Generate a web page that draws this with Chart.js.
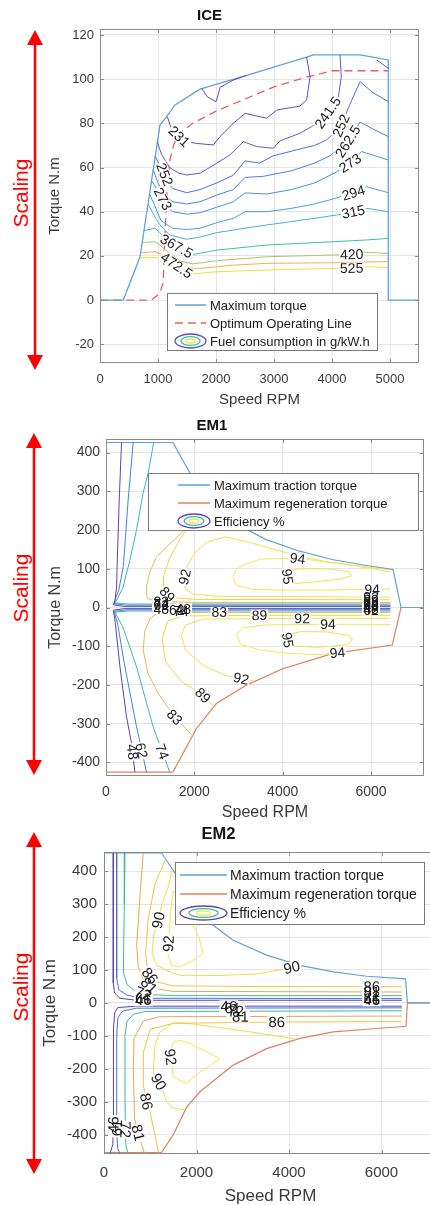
<!DOCTYPE html>
<html>
<head>
<meta charset="utf-8">
<script src="https://cdn.jsdelivr.net/npm/chart.js@4.4.1/dist/chart.umd.min.js"></script>
<style>
  body { margin: 0; width: 430px; height: 1205px; overflow: hidden; background: #fff; position: relative; }
  canvas { position: absolute; left: 0; }
  svg { position: absolute; left: 0; top: 0; }
  .scaling {
    position: absolute; color: #ff0000; font: 21px 'Liberation Sans', Arial, sans-serif;
    transform: translate(-50%, -50%) rotate(-90deg); white-space: nowrap;
  }
</style>
</head>
<body>
<svg width="430" height="1205">
  <g fill="#ff0000" stroke="#ff0000">
    <line x1="35" y1="44" x2="35" y2="356" stroke-width="2.5"/>
    <polygon points="35,30 27,45 43,45" stroke="none"/>
    <polygon points="35,370 27,355 43,355" stroke="none"/>
    <line x1="34" y1="447" x2="34" y2="761" stroke-width="2.5"/>
    <polygon points="34,433 26,448 42,448" stroke="none"/>
    <polygon points="34,775 26,760 42,760" stroke="none"/>
    <line x1="34" y1="846" x2="34" y2="1160" stroke-width="2.5"/>
    <polygon points="34,832 26,847 42,847" stroke="none"/>
    <polygon points="34,1174 26,1159 42,1159" stroke="none"/>
  </g>
</svg>
<div class="scaling" style="left:21px;top:193px">Scaling</div>
<div class="scaling" style="left:21px;top:588px">Scaling</div>
<div class="scaling" style="left:21px;top:987px">Scaling</div>

<canvas id="ice" width="430" height="410" style="top:0"></canvas>
<canvas id="em1" width="430" height="425" style="top:400px"></canvas>
<canvas id="em2" width="445" height="412" style="top:795px"></canvas>

<script>
// ---------- ICE data (rpm, N.m) ----------
const ICE_X_TICKS = [0, 1000, 2000, 3000, 4000, 5000];
const ICE_Y_TICKS = [-20, 0, 20, 40, 60, 80, 100, 120];
const ICE_MAX_TORQUE = [[0,0],[402,0],[690,19.6],[1034,79.2],[1149,83],[1293,88.3],[1724,95.5],[2500,101.5],[3563,110],[3678,111],[4483,111],[4971,108.7],[4971,0],[5500,0]];
const ICE_OOL = [[0,0],[890,0],[1030,3],[1090,8],[1120,30],[1160,52],[1210,64],[1280,71],[1400,76],[1600,80],[2000,85.5],[2500,91],[3000,96.5],[3500,100.5],[4000,103.8],[4971,103.8]];
const ICE_C231 = [[1161,83],[1236,77],[1330,75],[1450,72],[1667,70.9],[1954,70.2],[2069,74],[2299,80],[2500,84.5],[2874,82.3],[3046,86],[3448,87.8],[3563,90.6],[3621,101],[3563,110]];
const ICE_C231_TOP = [[1753,95.8],[1850,92],[2000,89.8],[2040,93],[2069,96.3],[2299,99.6],[2529,101.7]];
const ICE_C231_RIGHT = [[4770,108.7],[4971,104.9]];
const ICE_C241 = [[990,71.5],[1060,66],[1200,60],[1350,57.5],[1494,56.6],[1724,57.4],[2011,61.9],[2241,65.7],[2471,71.7],[2700,69.5],[2988,68.7],[3100,72],[3448,75.5],[3650,78.5],[3900,84],[4110,92],[4160,101],[4138,111]];
const ICE_C252 = [[952,65],[1030,61],[1100,58],[1160,54],[1250,50.5],[1494,48.6],[1724,50],[2011,53],[2299,56.5],[2500,63],[2750,62],[2988,65.3],[3390,68],[3700,70],[3907,72.5],[4138,78],[4300,88],[4483,98.9],[4700,94],[4971,89.8]];
const ICE_C262 = [[917,59],[1000,53],[1100,48],[1250,44.5],[1494,43.5],[1724,44.5],[2011,47.5],[2299,50],[2500,55.5],[2815,56],[3300,58.5],[3700,62],[3965,65.3],[4253,71],[4420,78],[4483,80.6],[4700,77.5],[4971,74]];
const ICE_C273 = [[888,54],[990,50],[1060,47],[1150,42.5],[1250,40],[1494,38.9],[1724,39.5],[2011,42],[2299,44.5],[2500,48.5],[2874,48],[3300,50],[3700,53],[4080,58],[4310,62],[4511,67.2],[4971,63.4]];
const ICE_C294 = [[854,48],[940,43],[1050,36],[1250,32.5],[1494,31.9],[1724,32.5],[2011,35],[2300,37],[2500,40],[2874,40],[3300,41.5],[3700,43.5],[4050,46],[4368,48.6],[4598,51.3],[4971,48.6]];
const ICE_C315 = [[828,43.5],[900,40],[960,37],[1050,33.5],[1200,29.5],[1494,27.5],[1724,28.5],[2011,30.5],[2500,32.5],[2874,34],[3300,35.5],[3700,37],[4080,38.5],[4368,40],[4598,41.5],[4971,40]];
const ICE_C367 = [[758,31.4],[948,32.5],[1034,30.5],[1150,27],[1322,24.5],[1500,21.5],[1609,20.6],[2011,22.6],[2874,24.9],[4023,26.4],[4598,27.2],[4971,27.9]];
const ICE_C420 = [[727,26.1],[948,26.4],[1034,24.9],[1200,21],[1400,17.5],[1609,16.4],[2011,17.8],[2874,19.6],[4023,20.4],[4339,20.7],[4598,21.6],[4971,21.1]];
const ICE_C472 = [[700,21.4],[948,21.9],[1092,20.4],[1200,18],[1322,15.8],[1500,14.5],[1724,14.3],[2299,15.8],[2874,16.6],[4023,16.9],[4971,17.4]];
const ICE_C525 = [[690,19.3],[948,19.3],[1149,17.4],[1300,14.5],[1450,12.5],[1552,11.7],[2011,12.8],[2874,13.6],[3950,14.3],[4339,14.5],[4598,15.1],[4971,14.7]];
const ICE_LABELS = [['231',1400,75],['241.5',3920,85],['252',4150,79],['262.5',4260,72],['273',4310,62],['294',4368,48.6],['315',4368,40],['367.5',1322,24.5],['420',4339,20.7],['472.5',1322,15.8],['525',4339,14.5],['252',1130,57],['273',1100,46]];

// ---------- EM1 data ----------
const EM_X_TICKS = [0, 2000, 4000, 6000];
const EM_Y_TICKS = [-400, -300, -200, -100, 0, 100, 200, 300, 400];
const EM1_TRACTION = [[0,426],[1515,426],[2045,318],[2500,256],[3165,203],[3615,176],[4365,146],[5115,124],[5865,109],[6500,98],[6680,0],[7200,0]];
const EM1_REGEN = [[0,-425],[1515,-425],[2045,-313],[2500,-248],[3170,-201],[4000,-158],[5125,-119],[6480,-97],[6680,0],[7200,0]];
const EM1_C48_UP = [[352,426],[300,280],[255,120],[240,53],[200,15],[165,7],[400,3],[6440,3]];
const EM1_C48_LO = [[654,-425],[579,-351],[466,-283],[316,-153],[200,-30],[165,-7],[400,-3],[6440,-3]];
const EM1_C62_UP = [[615,426],[502,278],[440,180],[390,105],[290,45],[202,19],[180,10],[450,6],[6440,6]];
const EM1_C62_LO = [[917,-425],[692,-308],[428,-153],[260,-40],[180,-10],[450,-6],[6440,-6]];
const EM1_C74_UP = [[1080,426],[960,350],[840,295],[690,200],[540,122],[380,50],[240,19],[200,12],[500,9],[6440,9]];
const EM1_C74_LO = [[1443,-425],[1067,-308],[692,-153],[380,-50],[200,-12],[500,-9],[6440,-9]];
const EM1_C83_UP = [[1960,334],[1778,200],[1450,165],[1140,131],[990,90],[915,53],[930,25],[1100,16],[2000,13],[6440,13]];
const EM1_C83_LO = [[1960,-331],[1556,-283],[1200,-225],[950,-170],[842,-110],[880,-60],[1000,-28],[1150,-16],[2000,-13],[6440,-13]];
const EM1_C89_UP = [[2380,272],[2000,230],[1700,180],[1450,130],[1300,80],[1300,45],[1450,26],[2000,21],[6440,20]];
const EM1_C89_LO = [[2450,-256],[2195,-227],[1700,-190],[1350,-140],[1270,-80],[1400,-35],[1700,-22],[3473,-20],[6440,-20]];
const EM1_C92_UP = [[6440,97],[5800,106],[5000,118],[4400,132],[3800,150],[3200,170],[2700,182],[2300,170],[2000,140],[1850,110],[1781,79],[1790,50],[1950,35],[2500,29],[6440,27]];
const EM1_C92_LO = [[3350,-190],[3060,-183],[2700,-175],[2200,-150],[1800,-110],[1707,-70],[1800,-45],[2200,-30],[4450,-28],[6440,-28]];
const EM1_C94_UP = [[6440,92],[5502,110],[4337,127],[3500,125],[3000,105],[2871,79],[2950,58],[3300,47],[4000,45],[5000,45],[6028,47],[6440,48]];
const EM1_C94_LO = [[5277,-116],[4800,-122],[4100,-118],[3500,-110],[3050,-95],[2950,-70],[3100,-52],[3600,-45],[5025,-43],[6440,-44]];
const EM1_C95_UP = [[4130,66],[4112,80],[4150,95],[4400,100],[5000,100],[5500,93],[5560,82],[5300,73],[4700,66],[4300,62],[4130,66]];
const EM1_C95_LO = [[4130,-92],[4112,-80],[4150,-70],[4400,-62],[5000,-63],[5500,-72],[5580,-84],[5450,-96],[4800,-103],[4300,-100],[4130,-92]];
const EM1_LABELS = [['92',1781,79],['94',4337,127],['95',4112,80],['94',6028,47],
  ['92',6000,27],['89',6000,20],['83',6000,13],['74',6000,9],['62',6000,6],['48',6000,3],['48',6000,-3],['62',6000,-6],
  ['89',1250,20],['83',1250,13],['74',1250,9],['62',1250,6],['48',1250,-3],['62',1600,-6],['74',1700,-9],['48',1750,-3],
  ['83',2565,-13],['89',3473,-20],['92',4440,-28],['94',5025,-43],['95',4112,-84],['94',5240,-118],
  ['92',3060,-183],['89',2195,-227],['83',1556,-283],['48',600,-373],['62',820,-369],['74',1250,-373]];

// ---------- EM2 data ----------
const EM2_TRACTION = [[0,456],[1242,456],[1495,403],[1800,330],[2100,280],[2361,236],[2794,190],[3516,145],[4238,114],[4960,94],[5682,81],[6520,73],[6560,0],[7200,0]];
const EM2_REGEN = [[0,-455],[1242,-455],[1500,-400],[1790,-316],[2075,-270],[2795,-189],[3516,-139],[4238,-108],[4957,-88],[5682,-80],[6530,-71],[6560,0],[7200,0]];
const EM2_C46_UP = [[201,459],[201,60],[230,30],[346,14],[700,8],[6440,8]];
const EM2_C46_LO = [[130,-459],[190,-430],[201,-380],[205,-80],[230,-30],[300,-14],[700,-10],[6440,-10]];
const EM2_C61_UP = [[274,459],[274,75],[320,40],[491,24],[800,14],[6440,13]];
const EM2_C61_LO = [[346,-459],[300,-443],[274,-400],[274,-100],[300,-45],[400,-25],[700,-16],[6440,-15]];
const EM2_C72_UP = [[454,459],[440,300],[418,94],[500,55],[634,40],[900,26],[1500,22],[6440,22]];
const EM2_C72_LO = [[520,-459],[470,-430],[454,-300],[454,-98],[500,-55],[634,-35],[900,-26],[6440,-24]];
const EM2_C81_UP = [[850,459],[780,330],[707,175],[740,110],[850,70],[1031,45],[1500,35],[6440,33]];
const EM2_C81_LO = [[880,-459],[778,-415],[660,-350],[634,-200],[650,-108],[850,-55],[1200,-42],[6440,-40]];
const EM2_C86_UP = [[1330,437],[1100,360],[950,250],[900,150],[950,90],[1100,65],[1500,52],[3000,50],[6440,49]];
const EM2_C86_LO = [[1180,-455],[1100,-400],[994,-331],[920,-300],[850,-250],[850,-150],[1000,-80],[1500,-62],[3733,-58],[6440,-57]];
const EM2_C90_UP = [[1480,407],[1390,353],[1250,300],[1174,251],[1066,200],[1040,150],[1139,115],[1400,95],[1643,84],[2500,83],[3300,88],[3800,100],[4058,108],[4300,112]];
const EM2_C90_LO = [[4150,-110],[3500,-95],[2500,-75],[1800,-62],[1499,-60],[1200,-90],[1103,-129],[1066,-210],[1247,-255],[1355,-301],[1500,-320],[1760,-325]];
const EM2_C92_UP = [[1495,340],[1440,270],[1400,200],[1380,150],[1450,115],[1640,109],[1928,130],[2145,150],[2050,200],[1850,260],[1640,320],[1495,340]];
const EM2_C92_LO = [[1643,-113],[1859,-123],[2508,-169],[2300,-190],[2075,-210],[1788,-245],[1499,-225],[1427,-149],[1500,-120],[1643,-113]];
const EM2_LABELS = [['90',1174,251],['92',1390,180],['90',4058,108],
  ['86',930,75],['81',900,42],['72',850,28],['61',850,16],['46',850,8],
  ['86',5790,49],['81',5790,33],['72',5790,22],['61',5790,13],['46',5790,8],
  ['46',2700,-10],['61',2780,-15],['72',2850,-24],['81',2950,-40],
  ['86',3733,-58],['92',1427,-165],['90',1180,-240],['86',900,-300],['81',720,-395],['72',454,-385],['61',274,-380],['46',201,-370]];

// ---------- styles ----------
const FONT = "'Liberation Sans', Arial, Helvetica, sans-serif";
const ICE_COLORS = {'231':'#5e4db5','241.5':'#5a5fc6','252':'#4c70d6','262.5':'#4682de','273':'#4393de','294':'#43a2dc','315':'#45afd8','367.5':'#3cbfae','420':'#aac46c','472.5':'#f5b04c','525':'#f1e03c'};
const EM1_COLORS = {'48':'#5a42b2','62':'#3f83dc','74':'#3cb7b4','83':'#dcbd5c','89':'#eed24a','92':'#f2de4e','94':'#f4e45c','95':'#f1e24a'};
const EM2_COLORS = {'46':'#5a42b2','61':'#4a6fe0','72':'#3cbaa0','81':'#eaa64e','86':'#f0c444','90':'#f2d94a','92':'#f4e64c'};
const MAX_BLUE = '#5fa3d8', REGEN_RED = '#e0805e';

const axesBox = {
  id: 'axesBox',
  afterDatasetsDraw(chart) {
    const { ctx, chartArea: a, scales: { x, y } } = chart;
    ctx.save();
    ctx.strokeStyle = '#8a8a8a';
    ctx.lineWidth = 1;
    ctx.strokeRect(Math.round(a.left) + 0.5, Math.round(a.top) + 0.5, Math.round(a.right - a.left) - 1, Math.round(a.bottom - a.top) - 1);
    ctx.beginPath();
    x.ticks.forEach(t => {
      const p = Math.round(x.getPixelForValue(t.value)) + 0.5;
      ctx.moveTo(p, a.bottom); ctx.lineTo(p, a.bottom - 4);
      ctx.moveTo(p, a.top); ctx.lineTo(p, a.top + 4);
    });
    y.ticks.forEach(t => {
      const p = Math.round(y.getPixelForValue(t.value)) + 0.5;
      ctx.moveTo(a.left, p); ctx.lineTo(a.left + 4, p);
      ctx.moveTo(a.right, p); ctx.lineTo(a.right - 4, p);
    });
    ctx.stroke();
    ctx.restore();
  }
};

// contour labels: snapped onto their own level line and turned along it.
// All white gaps go first, then all the texts, so stacked labels pile up like MATLAB's.
const contourLabels = {
  id: 'contourLabels',
  afterDatasetsDraw(chart, args, opts) {
    const { ctx, chartArea: a, scales: { x, y } } = chart;
    const placed = [];
    ctx.save();
    ctx.beginPath();
    ctx.rect(a.left, a.top, a.right - a.left, a.bottom - a.top);
    ctx.clip();
    ctx.font = opts.size + 'px ' + FONT;
    ctx.textAlign = 'center';
    ctx.textBaseline = 'middle';
    opts.items.forEach(([text, vx, vy]) => {
      const px = x.getPixelForValue(vx), py = y.getPixelForValue(vy);
      let best = null;
      chart.data.datasets.forEach(ds => {
        if (ds.label !== text) return;
        for (let i = 0; i < ds.data.length - 1; i++) {
          const ax = x.getPixelForValue(ds.data[i][0]), ay = y.getPixelForValue(ds.data[i][1]);
          const bx = x.getPixelForValue(ds.data[i + 1][0]), by = y.getPixelForValue(ds.data[i + 1][1]);
          const dx = bx - ax, dy = by - ay, len2 = dx * dx + dy * dy || 1;
          const t = Math.max(0, Math.min(1, ((px - ax) * dx + (py - ay) * dy) / len2));
          const qx = ax + t * dx, qy = ay + t * dy, d = Math.hypot(px - qx, py - qy);
          if (!best || d < best.d) best = { d, qx, qy, ang: Math.atan2(dy, dx) };
        }
      });
      if (!best) return;
      let ang = best.ang;
      if (ang >= Math.PI / 2) ang -= Math.PI;
      if (ang < -Math.PI / 2) ang += Math.PI;
      placed.push({ text, qx: best.qx, qy: best.qy, ang, w: ctx.measureText(text).width });
    });
    placed.forEach(p => {
      ctx.save();
      ctx.translate(p.qx, p.qy);
      ctx.rotate(p.ang);
      ctx.fillStyle = '#fff';
      ctx.fillRect(-p.w / 2 - 1, -opts.size * 0.4, p.w + 2, opts.size * 0.8);
      ctx.restore();
    });
    placed.forEach(p => {
      ctx.save();
      ctx.translate(p.qx, p.qy);
      ctx.rotate(p.ang);
      ctx.fillStyle = '#1a1a1a';
      ctx.fillText(p.text, 0, 1);
      ctx.restore();
    });
    ctx.restore();
  }
};

const insetLegend = {
  id: 'insetLegend',
  afterDraw(chart, args, o) {
    const ctx = chart.ctx;
    const [x0, y0, x1, y1] = o.box;
    ctx.save();
    ctx.fillStyle = '#fff';
    ctx.fillRect(x0, y0, x1 - x0, y1 - y0);
    ctx.strokeStyle = '#7a7a7a';
    ctx.lineWidth = 1;
    ctx.strokeRect(x0 + 0.5, y0 + 0.5, x1 - x0, y1 - y0);
    ctx.font = o.size + 'px ' + FONT;
    ctx.textBaseline = 'middle';
    o.items.forEach((it, i) => {
      const yy = o.rows[i];
      if (it.ellipse) {
        const cx = (o.sample[0] + o.sample[1]) / 2, rx = (o.sample[1] - o.sample[0]) / 2;
        [[rx, 7, it.ellipse[0]], [rx * 0.62, 4.3, it.ellipse[1]], [rx * 0.3, 2, it.ellipse[2]]].forEach(([r1, r2, c]) => {
          ctx.beginPath();
          ctx.ellipse(cx, yy, r1, r2, 0, 0, Math.PI * 2);
          ctx.strokeStyle = c;
          ctx.lineWidth = 1.3;
          ctx.stroke();
        });
      } else {
        ctx.beginPath();
        ctx.setLineDash(it.dash || []);
        ctx.strokeStyle = it.color;
        ctx.lineWidth = 1.5;
        ctx.moveTo(o.sample[0], yy);
        ctx.lineTo(o.sample[1], yy);
        ctx.stroke();
        ctx.setLineDash([]);
      }
      ctx.fillStyle = '#1a1a1a';
      ctx.fillText(it.text, o.textX, yy + 1);
    });
    ctx.restore();
  }
};

function buildChart(id, c) {
  const datasets = c.lines.map(([label, pts, color, width, dash]) => ({
    label, data: pts, borderColor: color, borderWidth: width || 1, borderDash: dash || [],
    showLine: true, pointRadius: 0, fill: false, tension: 0
  }));
  return new Chart(document.getElementById(id), {
    type: 'scatter',
    data: { datasets },
    options: {
      responsive: false,
      animation: false,
      devicePixelRatio: 1,
      layout: { padding: { left: 0, right: c.padRight, top: 0, bottom: 0 } },
      plugins: {
        legend: { display: false },
        tooltip: { enabled: false },
        title: { display: true, text: c.title, color: '#111', font: { family: FONT, size: c.titleSize, weight: 'bold' }, padding: c.titlePad },
        contourLabels: { items: c.labels, size: c.labelSize },
        insetLegend: c.legend
      },
      scales: {
        x: {
          type: 'linear', min: c.xMin, max: c.xMax,
          afterBuildTicks: s => { s.ticks = c.xTicks.map(v => ({ value: v })); },
          afterFit: s => { s.height = c.xHeight; s.paddingLeft = 0; s.paddingRight = 0; },
          grid: { color: '#e4e4e4', drawTicks: false },
          border: { display: false },
          ticks: { color: '#3a3a3a', font: { family: FONT, size: c.tickSize }, padding: c.xTickPad, maxRotation: 0, autoSkip: false, callback: v => String(v) },
          title: { display: true, text: 'Speed RPM', color: '#3a3a3a', font: { family: FONT, size: c.axisTitleSize }, padding: { top: 0, bottom: c.xTitlePad } }
        },
        y: {
          type: 'linear', min: c.yMin, max: c.yMax,
          afterBuildTicks: s => { s.ticks = c.yTicks.map(v => ({ value: v })); },
          afterFit: s => { s.width = c.yWidth; s.paddingTop = 0; s.paddingBottom = 0; },
          grid: { color: '#e4e4e4', drawTicks: false },
          border: { display: false },
          ticks: { color: '#3a3a3a', font: { family: FONT, size: c.tickSize }, padding: c.yTickPad, autoSkip: false, callback: v => String(v) },
          title: { display: true, text: 'Torque N.m', color: '#3a3a3a', font: { family: FONT, size: c.axisTitleSize }, padding: { top: c.yTitlePad, bottom: 0 } }
        }
      }
    },
    plugins: [axesBox, contourLabels, insetLegend]
  });
}

// ICE
const iceLines = [
  ['231', ICE_C231_TOP], ['231', ICE_C231_RIGHT], ['231', ICE_C231], ['241.5', ICE_C241], ['252', ICE_C252],
  ['262.5', ICE_C262], ['273', ICE_C273], ['294', ICE_C294], ['315', ICE_C315], ['367.5', ICE_C367],
  ['420', ICE_C420], ['472.5', ICE_C472], ['525', ICE_C525]
].map(([lv, pts]) => [lv, pts, ICE_COLORS[lv], 1]);
iceLines.push(['Maximum torque', ICE_MAX_TORQUE, MAX_BLUE, 1.3]);
iceLines.push(['Optimum Operating Line', ICE_OOL, '#f25c5c', 1.3, [8, 5]]);

buildChart('ice', {
  title: 'ICE', titleSize: 15, titlePad: { top: 7, bottom: 4 },
  xMin: 0, xMax: 5500, yMin: -28.5, yMax: 122.7, xTicks: ICE_X_TICKS, yTicks: ICE_Y_TICKS,
  padRight: 11, xHeight: 47, yWidth: 100, tickSize: 13, axisTitleSize: 15,
  xTickPad: 9, xTitlePad: 1, yTickPad: 6, yTitlePad: 46,
  lines: iceLines, labels: ICE_LABELS, labelSize: 14,
  legend: {
    box: [167, 293, 377, 350], sample: [175, 206], textX: 210, rows: [305, 323, 341], size: 13,
    items: [
      { text: 'Maximum torque', color: MAX_BLUE },
      { text: 'Optimum Operating Line', color: '#f25c5c', dash: [8, 5] },
      { text: 'Fuel consumption in g/kW.h', ellipse: ['#5e4db5', '#3cbfae', '#f1e03c'] }
    ]
  }
});

// EM1
const em1Lines = [
  ['48', EM1_C48_UP], ['48', EM1_C48_LO], ['62', EM1_C62_UP], ['62', EM1_C62_LO], ['74', EM1_C74_UP], ['74', EM1_C74_LO],
  ['83', EM1_C83_UP], ['83', EM1_C83_LO], ['89', EM1_C89_UP], ['89', EM1_C89_LO], ['92', EM1_C92_UP], ['92', EM1_C92_LO],
  ['94', EM1_C94_UP], ['94', EM1_C94_LO], ['95', EM1_C95_UP], ['95', EM1_C95_LO]
].map(([lv, pts]) => [lv, pts, EM1_COLORS[lv], 1]);
em1Lines.push(['Maximum traction torque', EM1_TRACTION, MAX_BLUE, 1.2]);
em1Lines.push(['Maximum regeneration torque', EM1_REGEN, REGEN_RED, 1.2]);

buildChart('em1', {
  title: 'EM1', titleSize: 15, titlePad: { top: 17, bottom: 4 },
  xMin: 0, xMax: 7200, yMin: -435, yMax: 435, xTicks: EM_X_TICKS, yTicks: EM_Y_TICKS,
  padRight: 6, xHeight: 49, yWidth: 106, tickSize: 14, axisTitleSize: 16,
  xTickPad: 7.6, xTitlePad: 2.4, yTickPad: 6, yTitlePad: 46.4,
  lines: em1Lines, labels: EM1_LABELS, labelSize: 14,
  legend: {
    box: [148, 73, 418, 130], sample: [178, 210], textX: 214, rows: [85, 103, 121], size: 13,
    items: [
      { text: 'Maximum traction torque', color: MAX_BLUE },
      { text: 'Maximum regeneration torque', color: REGEN_RED },
      { text: 'Efficiency %', ellipse: ['#5a42b2', '#3cb7b4', '#f1e24a'] }
    ]
  }
});

// EM2
const em2Lines = [
  ['46', EM2_C46_UP], ['46', EM2_C46_LO], ['61', EM2_C61_UP], ['61', EM2_C61_LO], ['72', EM2_C72_UP], ['72', EM2_C72_LO],
  ['81', EM2_C81_UP], ['81', EM2_C81_LO], ['86', EM2_C86_UP], ['86', EM2_C86_LO], ['90', EM2_C90_UP], ['90', EM2_C90_LO],
  ['92', EM2_C92_UP], ['92', EM2_C92_LO]
].map(([lv, pts]) => [lv, pts, EM2_COLORS[lv], 1]);
em2Lines.push(['Maximum traction torque', EM2_TRACTION, MAX_BLUE, 1.2]);
em2Lines.push(['Maximum regeneration torque', EM2_REGEN, REGEN_RED, 1.2]);

buildChart('em2', {
  title: 'EM2', titleSize: 16.5, titlePad: { top: 30, bottom: 7 },
  xMin: 0, xMax: 7200, yMin: -459, yMax: 459, xTicks: EM_X_TICKS, yTicks: EM_Y_TICKS,
  padRight: 8, xHeight: 53, yWidth: 104, tickSize: 15, axisTitleSize: 17,
  xTickPad: 10, xTitlePad: 0.8, yTickPad: 7, yTitlePad: 39.8,
  lines: em2Lines, labels: EM2_LABELS, labelSize: 15,
  legend: {
    box: [175, 67, 424, 129], sample: [180, 227], textX: 230, rows: [80, 99, 118], size: 14,
    items: [
      { text: 'Maximum traction torque', color: MAX_BLUE },
      { text: 'Maximum regeneration torque', color: REGEN_RED },
      { text: 'Efficiency %', ellipse: ['#5a42b2', '#3cbaa0', '#f4e64c'] }
    ]
  }
});
</script>
</body>
</html>
